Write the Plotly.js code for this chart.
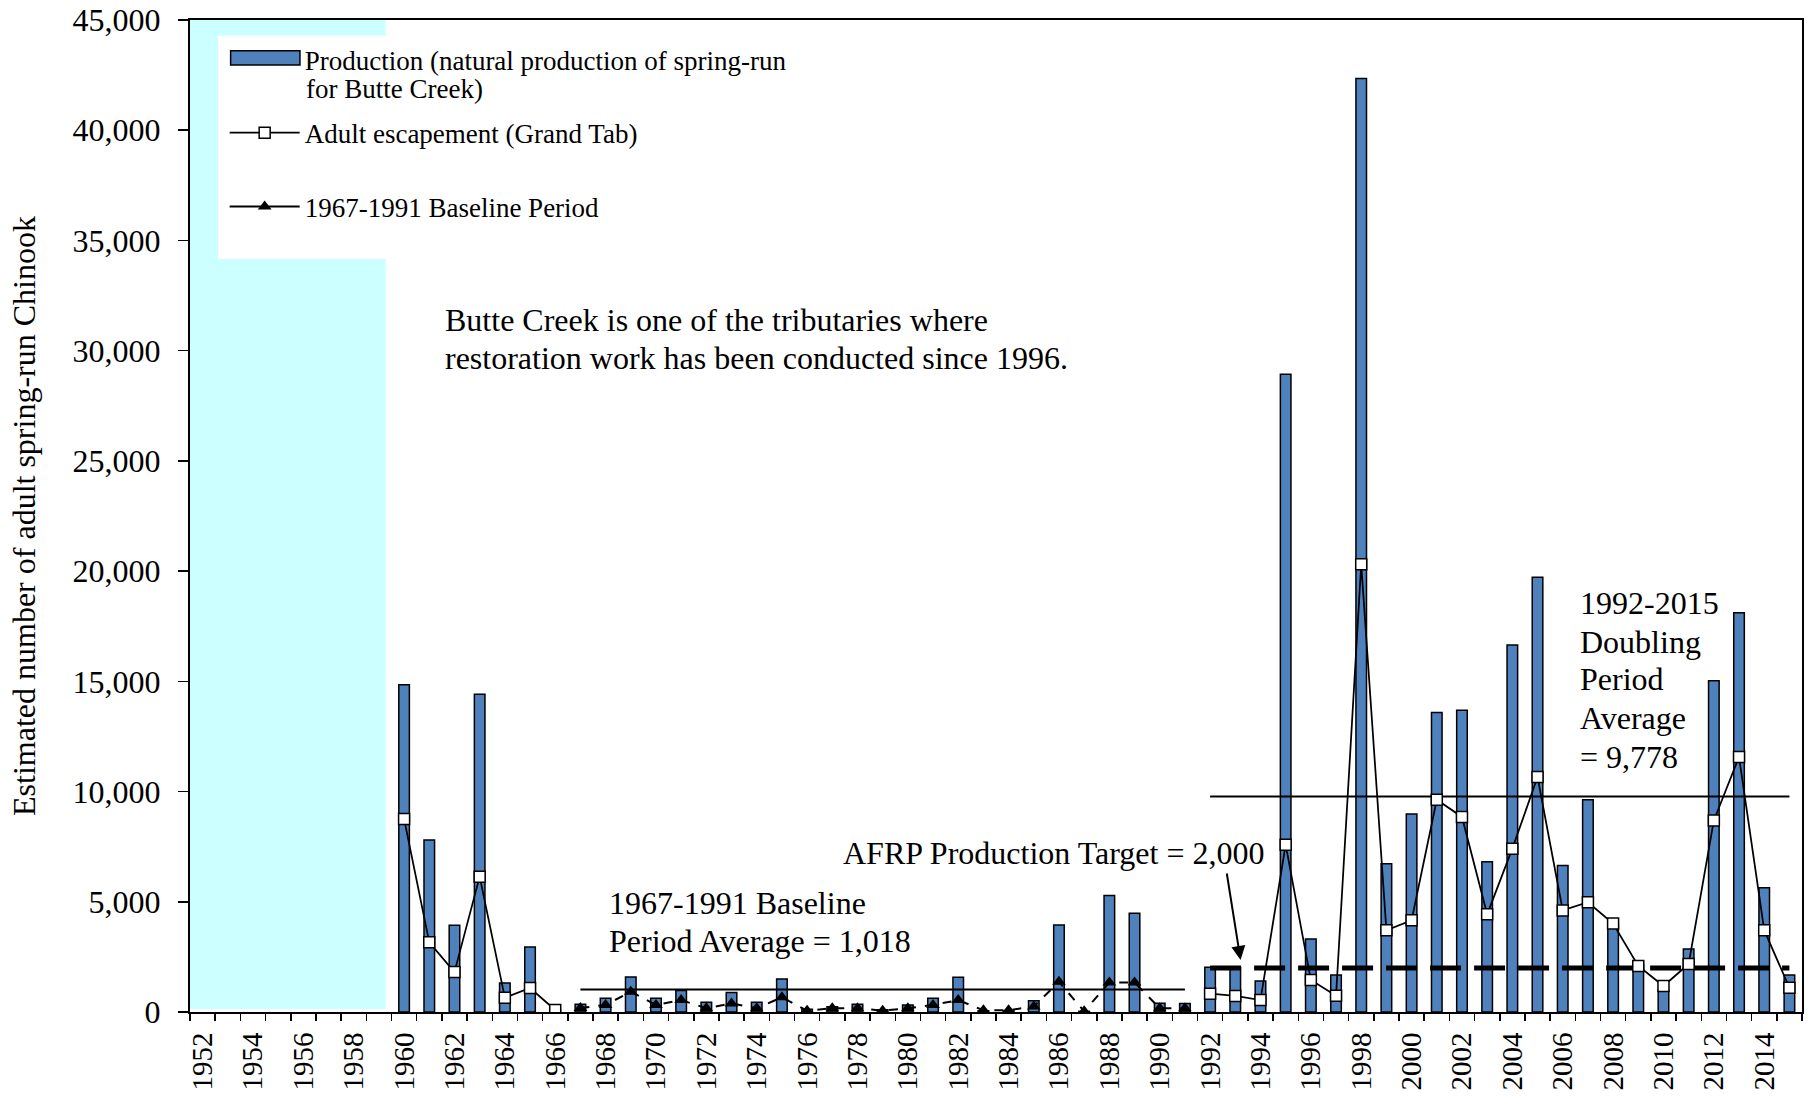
<!DOCTYPE html>
<html>
<head>
<meta charset="utf-8">
<script src="https://cdn.plot.ly/plotly-3.0.1.min.js"></script>
<style>html,body{margin:0;padding:0;background:#fff;}#chart{width:1810px;height:1097px;}</style>
</head>
<body>
<div id="chart"></div>
<script>
// ---- data ----
const years = ["1952","1953","1954","1955","1956","1957","1958","1959","1960","1961","1962","1963","1964","1965","1966","1967","1968","1969","1970","1971","1972","1973","1974","1975","1976","1977","1978","1979","1980","1981","1982","1983","1984","1985","1986","1987","1988","1989","1990","1991","1992","1993","1994","1995","1996","1997","1998","1999","2000","2001","2002","2003","2004","2005","2006","2007","2008","2009","2010","2011","2012","2013","2014","2015"];

// Production (natural production of spring-run for Butte Creek)
const production = [null,null,null,null,null,null,null,null,
  14850,7800,3930,14410,1320,2950,90,
  350,620,1590,620,970,440,880,440,1500,120,240,350,100,320,620,1580,60,60,510,3950,30,5280,4480,400,380,
  2030,2010,1410,28930,3310,1680,42350,6730,8980,13590,13690,6820,16650,19720,6640,9630,3950,2150,1000,2860,15030,18110,5640,1680];

// Adult escapement (Grand Tab), outside the baseline period
const escapement = [null,null,null,null,null,null,null,null,
  8760,3160,1810,6140,650,1090,90,
  null,null,null,null,null,null,null,null,null,null,null,null,null,null,null,null,null,null,null,null,null,null,null,null,null,
  830,730,540,7590,1450,740,20310,3710,4160,9630,8850,4430,7410,10660,4610,4980,4010,2090,1180,2180,8690,11570,3710,1100];

// 1967-1991 Baseline Period escapement
const baselineYears = ["1967","1968","1969","1970","1971","1972","1973","1974","1975","1976","1977","1978","1979","1980","1981","1982","1983","1984","1985","1986","1987","1988","1989","1990","1991"];
const baseline = [180,320,920,320,540,170,390,170,670,60,170,170,60,170,320,540,80,80,250,1370,30,1340,1340,170,170];

// reference levels
const baselinePeriod = ["1967","1991"];
const baselineAverage = 1018;
const doublingPeriod = ["1992","2015"];
const doublingAverage = 9778;
const afrpTarget = 2000;
const noDataYears = ["1952","1959"];

// legend texts
const productionName = ["Production (natural production of spring-run", "for Butte Creek)"];
const escapementName = "Adult escapement (Grand Tab)";
const baselineName = "1967-1991 Baseline Period";

// tick labels: every second year
const tickLabels = years.map((y, i) => (i % 2 === 0 ? y : ""));

// ---- chart ----
const FONT = "Liberation Serif, Times New Roman, serif";
const BLUE = "#4F81BD";
const idx = y => years.indexOf(y);

const traces = [
  {
    type: "bar", x: years, y: production, name: productionName.join(" "),
    marker: {color: BLUE, line: {color: "#000000", width: 1.5}},
    showlegend: false, hoverinfo: "x+y"
  },
  {
    type: "scatter", mode: "lines", x: baselinePeriod, y: [baselineAverage, baselineAverage],
    line: {color: "#000", width: 2}, showlegend: false, hoverinfo: "y"
  },
  {
    type: "scatter", mode: "lines", x: doublingPeriod, y: [doublingAverage, doublingAverage],
    line: {color: "#000", width: 2}, showlegend: false, hoverinfo: "y"
  },
  {
    type: "scatter", mode: "lines", x: doublingPeriod, y: [afrpTarget, afrpTarget],
    line: {color: "#000", width: 5, dash: "31px,13px"}, showlegend: false, hoverinfo: "y"
  },
  {
    type: "scatter", mode: "lines+markers", x: years, y: escapement,
    name: escapementName,
    line: {color: "#000", width: 1.75},
    marker: {symbol: "square", size: 11, color: "#ffffff", line: {color: "#000", width: 1.5}},
    connectgaps: false, legend: "legend2"
  },
  {
    type: "scatter", mode: "lines+markers", x: baselineYears, y: baseline,
    name: baselineName,
    line: {color: "#000", width: 2, dash: "dash"},
    marker: {symbol: "triangle-up", size: 12, color: "#000"},
    showlegend: false
  },
  // legend entries (swatch of the bar entry is drawn as a shape below)
  {
    type: "scatter", mode: "lines", x: [null], y: [null], name: productionName[0],
    line: {color: "rgba(0,0,0,0)", width: 1}, legend: "legend", hoverinfo: "skip"
  },
  {
    type: "scatter", mode: "lines+markers", x: [null], y: [null], name: baselineName,
    line: {color: "#000", width: 2},
    marker: {symbol: "triangle-up", size: 12, color: "#000"},
    legend: "legend3", hoverinfo: "skip"
  }
];

const legendCommon = {
  xanchor: "left", x: 0.0215, yanchor: "middle",
  bgcolor: "rgba(0,0,0,0)", borderwidth: 0,
  font: {family: FONT, size: 27, color: "#000"},
  itemwidth: 70
};

const txt = (x, y, text, anchor, xref) => ({
  xref: xref || "x", yref: xref === "paper" ? "paper" : "y", x: x, y: y, text: text,
  xanchor: anchor || "left", yanchor: "middle", showarrow: false,
  font: {family: FONT, size: xref === "paper" ? 27 : 32, color: "#000"}
});

const layout = {
  width: 1810, height: 1097,
  margin: {l: 190, r: 8, t: 20, b: 85, pad: 0},
  paper_bgcolor: "#ffffff", plot_bgcolor: "#ffffff",
  font: {family: FONT, color: "#000"},
  bargap: 0.58,
  xaxis: {
    type: "category", range: [-0.5, years.length - 0.5],
    tickmode: "array", tickvals: years, ticktext: tickLabels,
    tickson: "boundaries", ticks: "outside", ticklen: 7, tickwidth: 1.5, tickcolor: "#000",
    ticklabelstandoff: 7,
    tickangle: -90, tickfont: {family: FONT, size: 29, color: "#000"},
    showline: true, linewidth: 2, linecolor: "#000", mirror: true,
    showgrid: false, zeroline: false, fixedrange: true
  },
  yaxis: {
    range: [0, 45000], dtick: 5000, tickformat: ",",
    ticks: "outside", ticklen: 10, tickwidth: 1.5, tickcolor: "#000",
    ticklabelstandoff: 11,
    tickfont: {family: FONT, size: 32, color: "#000"},
    showline: true, linewidth: 2, linecolor: "#000", mirror: true,
    showgrid: false, zeroline: false,
    title: {text: "Estimated number of adult spring-run Chinook", font: {family: FONT, size: 32, color: "#000"}, standoff: 27}
  },
  legend: Object.assign({}, legendCommon, {y: 0.9597}),
  legend2: Object.assign({}, legendCommon, {y: 0.886}),
  legend3: Object.assign({}, legendCommon, {y: 0.8115}),
  shapes: [
    {type: "rect", layer: "below", xref: "x", yref: "paper",
     x0: idx(noDataYears[0]) - 0.5, x1: idx(noDataYears[1]) + 0.27, y0: 0.003, y1: 1,
     fillcolor: "#CCFFFF", line: {width: 0}},
    {type: "rect", layer: "below", xref: "paper", yref: "paper",
     x0: 0.0174, x1: 0.40, y0: 0.759, y1: 0.984,
     fillcolor: "#ffffff", line: {width: 0}},
    // legend swatch for the production bars
    {type: "rect", layer: "above", xref: "paper", yref: "paper",
     x0: 0.0252, x1: 0.0682, y0: 0.9546, y1: 0.9690,
     fillcolor: BLUE, line: {color: "#000", width: 1.5}}
  ],
  annotations: [
    txt(0.0705, 0.9304, productionName[1], "left", "paper"),
    txt(9.54, 31390, "Butte Creek is one of the tributaries where"),
    txt(9.54, 29665, "restoration work has been conducted since 1996."),
    txt(16.05, 4944, "1967-1991 Baseline"),
    txt(16.05, 3221, "Period Average = 1,018"),
    txt(42.2, 7210, "AFRP Production Target = 2,000", "right"),
    txt(54.6, 18540, "1992-2015"),
    txt(54.6, 16800, "Doubling"),
    txt(54.6, 15100, "Period"),
    txt(54.6, 13320, "Average"),
    txt(54.6, 11580, "= 9,778"),
    {xref: "x", yref: "y", x: 41.21, y: 2360, text: "", showarrow: true,
     ax: -14, ay: -88, arrowhead: 2, arrowsize: 1.4, arrowwidth: 2, arrowcolor: "#000"}
  ]
};

Plotly.newPlot("chart", traces, layout, {displayModeBar: false, staticPlot: true});
</script>
</body>
</html>
